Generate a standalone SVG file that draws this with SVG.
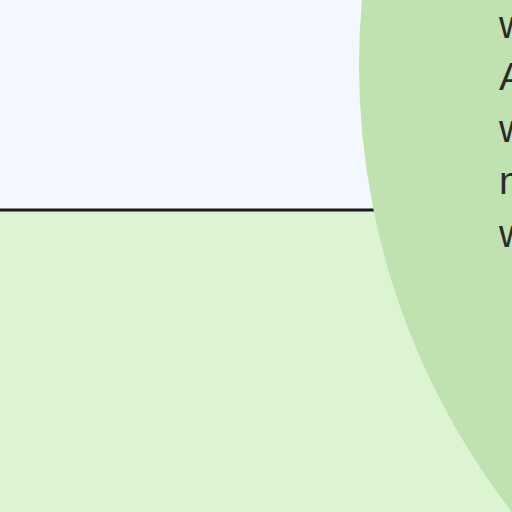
<svg xmlns="http://www.w3.org/2000/svg" width="512" height="512" viewBox="0 0 512 512">
<style>
.lbl{font-family:"Liberation Sans",Arial,sans-serif;font-size:39px;fill:#2b2b2b}
</style>
<g id="top-region"><rect x="0" y="0" width="512" height="210" fill="#F3F8FE"/></g>
<g id="bottom-region"><rect x="0" y="210" width="512" height="302" fill="#DDF4D2"/></g>
<g id="connectors"><line x1="0" y1="210" x2="380" y2="210" stroke="#1a1a1a" stroke-width="3"/></g>
<g id="circle-node">
<circle cx="1089" cy="65" r="730" fill="#C0E1B0"/>
<text class="lbl" x="499" y="38">w</text>
<text class="lbl" x="499" y="90">A</text>
<text class="lbl" x="499" y="142">w</text>
<text class="lbl" x="499" y="194">n</text>
<text class="lbl" x="499" y="247">w</text>
</g>
</svg>
